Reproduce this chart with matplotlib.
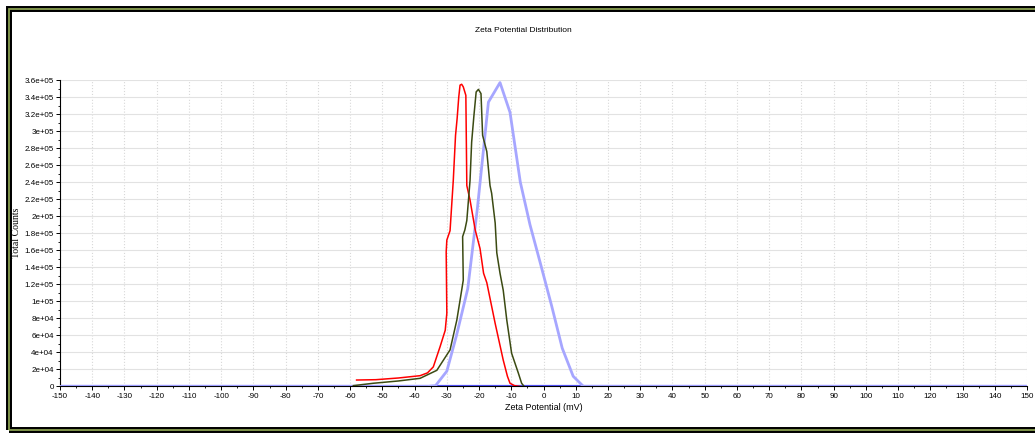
import numpy as np
import matplotlib
matplotlib.use("Agg")
import matplotlib.pyplot as plt
from matplotlib.patches import Rectangle
from matplotlib.ticker import MultipleLocator, FuncFormatter

plt.rcParams["font.family"] = ["Liberation Sans Narrow", "Liberation Sans", "DejaVu Sans"]
plt.rcParams["axes.unicode_minus"] = False

# zeta potential (mV) vs total counts
blue_x = [-150, -36, -33.5, -30, -27, -23.5, -20.5, -17.1, -13.5, -10.4, -7.2, -4.2,
          -1.0, 2.5, 5.8, 9.2, 12.4, 150]
blue_y = [0, 0, 1000, 18000, 60000, 115000, 210000, 334000, 357000, 322000, 240000,
          190000, 145000, 95000, 45000, 12000, 0, 0]

red_x = [-58, -52, -45, -38.3, -36, -34.2, -32.1, -30.5, -30.0, -30.2, -30.0, -29.0,
         -28.0, -27.3, -26.8, -26.3, -25.9, -25.4, -24.9, -24.1, -23.8, -22.8,
         -21.2, -19.7, -18.6, -17.6, -15.0, -12.5, -11.2, -10.4, -9, -7.3]
red_y = [7600, 8000, 10000, 12700, 16000, 23000, 46700, 66000, 86000, 158000, 172000,
         183000, 242000, 295000, 315000, 340000, 354000, 355000, 352000, 342000, 236000,
         219000, 184000, 162000, 133000, 122000, 74000, 31000, 12000, 3800, 1000, 0]

green_x = [-59, -52.8, -45, -38.3, -33.1, -29.0, -26.9, -25.4, -24.9, -25.1, -24.4,
           -23.8, -22.8, -22.3, -21.6, -20.9, -20.2, -19.4, -18.9, -17.6, -16.6,
           -16.1, -15.0, -14.5, -13.5, -12.5, -11.4, -9.9, -7.8, -6.8, -6.0]
green_y = [1000, 3800, 6500, 9600, 19000, 43000, 78000, 113000, 125000, 176000, 184000,
           195000, 242000, 287000, 318000, 346000, 349000, 344000, 295000, 276000, 236000,
           227000, 192000, 157000, 133000, 113000, 78000, 39000, 15600, 3800, 0]

fig = plt.figure(figsize=(10.35, 4.33), dpi=100)
ax = fig.add_axes([0.058, 0.1074, 0.9343, 0.7078])

ax.plot(blue_x, blue_y, color="#a6a6ff", lw=2.0, zorder=3)
ax.plot(red_x, red_y, color="#ff0000", lw=1.1, zorder=4)
ax.plot(green_x, green_y, color="#3b4a12", lw=1.1, zorder=4)
ax.axhline(0, color="#5555ff", lw=1.6, zorder=2)

ax.set_xlim(-150, 150)
ax.set_ylim(0, 360000)
ax.xaxis.set_major_locator(MultipleLocator(10))
ax.xaxis.set_minor_locator(MultipleLocator(5))
ax.yaxis.set_major_locator(MultipleLocator(20000))
ax.yaxis.set_minor_locator(MultipleLocator(10000))
ax.yaxis.set_major_formatter(FuncFormatter(lambda v, p: "0" if v == 0 else "{:.2g}".format(v)))

ax.grid(True, axis="x", which="major", color="#d8d8d8", ls=":", lw=0.8)
ax.grid(True, axis="y", which="major", color="#e2e2e2", ls="-", lw=0.8)
ax.set_axisbelow(True)
for s in ["top", "right"]:
    ax.spines[s].set_visible(False)
ax.spines["left"].set_linewidth(0.8)
ax.spines["bottom"].set_linewidth(0.8)
ax.tick_params(which="major", labelsize=5.8, length=3, width=0.7, pad=1.5)
ax.tick_params(which="minor", length=1.5, width=0.6)

ax.set_xlabel("Zeta Potential (mV)", fontsize=6.5, labelpad=2)
ax.set_ylabel("Total Counts", fontsize=7, family="Liberation Serif")
ax.yaxis.set_label_coords(-0.04, 0.5)
fig.text(0.506, 0.93, "Zeta Potential Distribution", fontsize=6, ha="center", va="center")

# window frame: black band with olive stripe
frame = dict(transform=None, fill=False, zorder=10)
fig.add_artist(Rectangle((9, 3), 1040, 421, edgecolor="black", lw=4.3, **frame))
fig.add_artist(Rectangle((9, 3), 1040, 421, edgecolor="#8aa050", lw=1.3, **frame))

fig.savefig("out.png", dpi=100)
